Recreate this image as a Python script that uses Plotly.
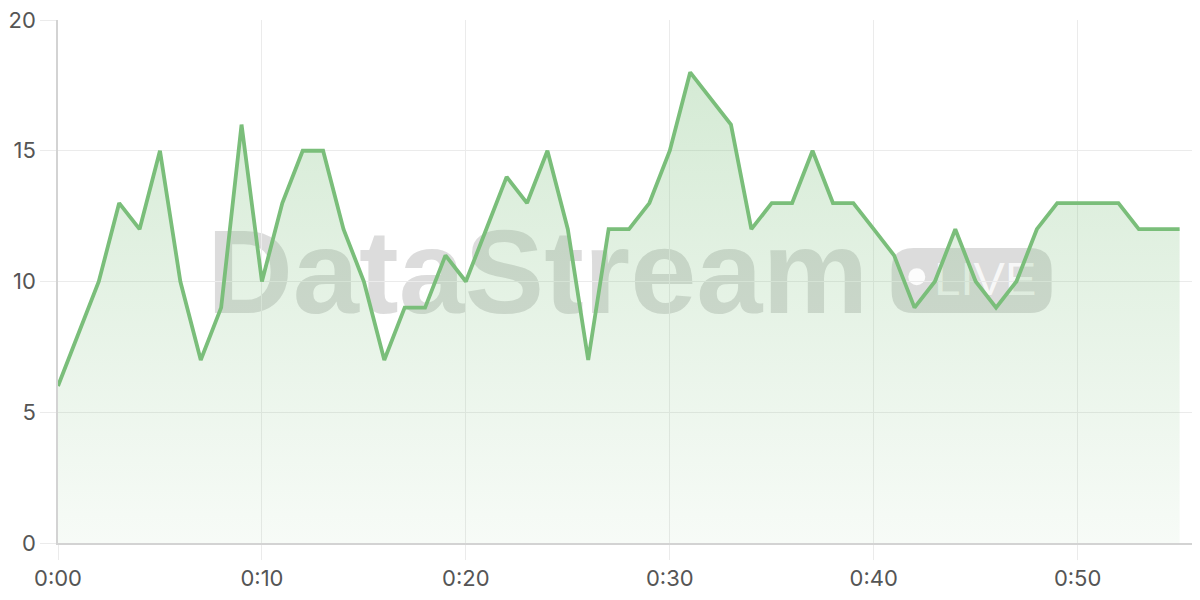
import plotly.graph_objects as go

# minutes since start and the value at each minute
minutes = list(range(56))
values = [6, 8, 10, 13, 12, 15, 10, 7, 9, 16,
          10, 13, 15, 15, 12, 10, 7, 9, 9, 11,
          10, 12, 14, 13, 15, 12, 7, 12, 12, 13,
          15, 18, 17, 16, 12, 13, 13, 15, 13, 13,
          12, 11, 9, 10, 12, 10, 9, 10, 12, 13,
          13, 13, 13, 12, 12, 12]

x_ticks = [0, 10, 20, 30, 40, 50]
x_labels = ["0:00", "0:10", "0:20", "0:30", "0:40", "0:50"]
y_ticks = [0, 5, 10, 15, 20]

GREEN = "rgb(122,190,122)"
GRID = "#ebebeb"
AXIS = "#d3d3d3"
WM = "rgba(120,120,120,0.26)"

fig = go.Figure()

fig.add_trace(go.Scatter(
    x=minutes, y=values, mode="lines",
    line=dict(color=GREEN, width=3.8),
    fill="tozeroy",
    fillgradient=dict(
        type="vertical", start=0, stop=18,
        colorscale=[[0, "rgba(122,190,122,0.06)"], [1, "rgba(122,190,122,0.32)"]],
    ),
    hoverinfo="skip", showlegend=False,
))

# watermark: "DataStream" + LIVE badge, drawn under the line
fig.add_shape(
    type="rect", xref="paper", yref="paper", x0=0.12, x1=0.72, y0=0.46, y1=0.62,
    line_width=0, fillcolor="rgba(0,0,0,0)", layer="between",
    label=dict(text="DataStream", textposition="middle center",
               font=dict(family="Liberation Sans", size=119, color=WM, weight="bold")),
)
w, h, r = 80, 32.5, 22
badge = (f"M {-w + r},{-h} L {w - r},{-h} Q {w},{-h} {w},{-h + r} "
         f"L {w},{h - r} Q {w},{h} {w - r},{h} L {-w + r},{h} "
         f"Q {-w},{h} {-w},{h - r} L {-w},{-h + r} Q {-w},{-h} {-w + r},{-h} Z")
fig.add_shape(
    type="path", xref="paper", yref="paper", xsizemode="pixel", ysizemode="pixel",
    xanchor=0.800, yanchor=0.502, path=badge,
    line_width=0, fillcolor=WM, layer="between",
)
fig.add_shape(
    type="circle", xref="paper", yref="paper", xsizemode="pixel", ysizemode="pixel",
    xanchor=0.752, yanchor=0.509, x0=-8.5, x1=8.5, y0=-8.5, y1=8.5,
    line_width=0, fillcolor="rgba(255,255,255,0.9)", layer="between",
)
fig.add_shape(
    type="rect", xref="paper", yref="paper", x0=0.772, x1=0.852, y0=0.47, y1=0.555,
    line_width=0, fillcolor="rgba(0,0,0,0)", layer="between",
    label=dict(text="LIVE", textposition="middle center",
               font=dict(family="Liberation Sans", size=47, color="rgba(255,255,255,0.8)")),
)

# the page body adds an 8px offset, so the figure is shrunk to fit the window
fig.update_layout(
    width=1192, height=592,
    margin=dict(l=50, r=0, t=12, b=57),
    paper_bgcolor="white", plot_bgcolor="white",
    font=dict(family="Inter", size=22, color="#555555"),
)
fig.update_xaxes(
    range=[0, 56], tickvals=x_ticks, ticktext=x_labels, automargin=False,
    ticklabeloverflow="allow",
    showgrid=True, gridcolor=GRID, gridwidth=1,
    showline=True, linecolor=AXIS, linewidth=1.5,
    ticks="outside", ticklen=15, tickcolor=GRID, zeroline=False,
)
fig.update_yaxes(
    range=[0, 20], tickvals=y_ticks, automargin=False,
    ticklabeloverflow="allow",
    showgrid=True, gridcolor=GRID, gridwidth=1,
    showline=True, linecolor=AXIS, linewidth=1.5,
    ticks="outside", ticklen=16, tickcolor=GRID, zeroline=False,
)

fig.write_html("out.html")
